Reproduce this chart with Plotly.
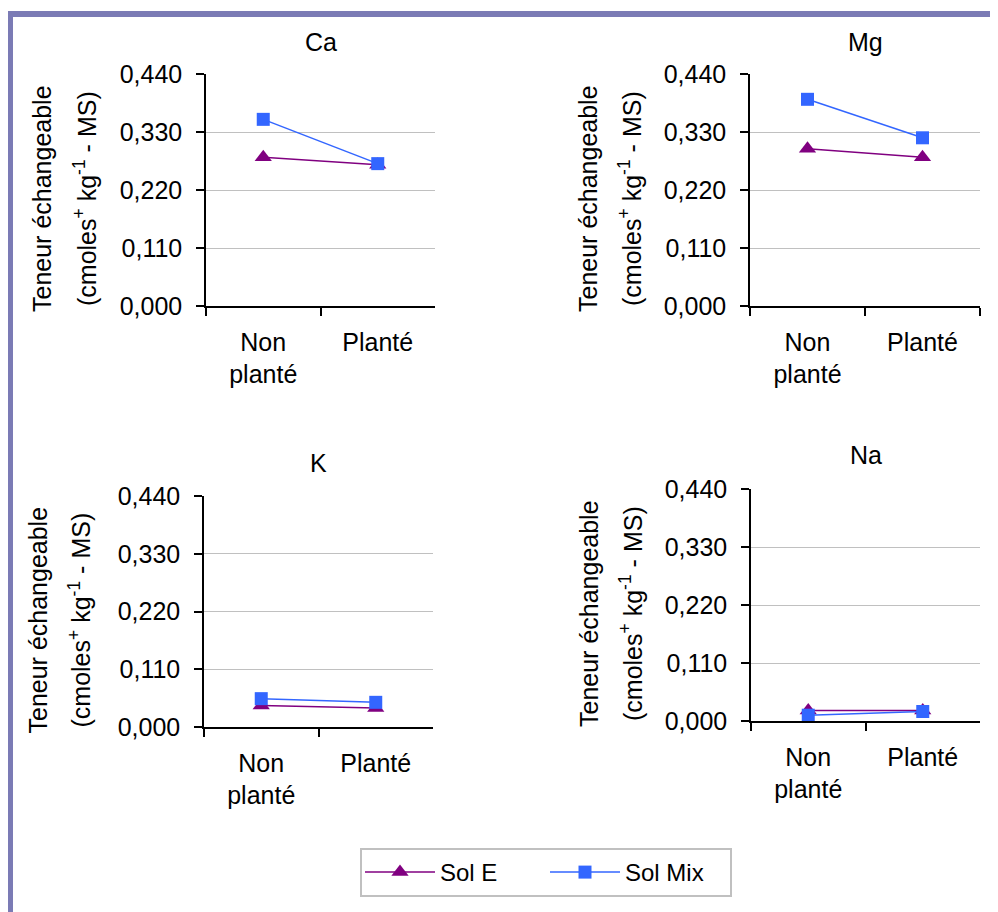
import plotly.graph_objects as go

# ---------------- data ----------------
categories = ["Non<br>planté", "Planté"]
elements = ["Ca", "Mg", "K", "Na"]
sol_e = {
    "Ca": [0.282, 0.268],
    "Mg": [0.298, 0.282],
    "K": [0.041, 0.036],
    "Na": [0.020, 0.020],
}
sol_mix = {
    "Ca": [0.354, 0.270],
    "Mg": [0.392, 0.319],
    "K": [0.054, 0.047],
    "Na": [0.011, 0.018],
}
y_ticks = [0.0, 0.11, 0.22, 0.33, 0.44]
y_ticktext = ["0,000", "0,110", "0,220", "0,330", "0,440"]
series_names = ["Sol E", "Sol Mix"]
ytitle_line1 = "Teneur échangeable"
ytitle_line2 = "(cmoles<sup>+</sup> kg<sup>-1</sup> - MS)"

# ---------------- layout geometry (pixels) ----------------
W, H = 998, 912
OFF = 8  # page body margin
FONT = "Liberation Sans, Arial, sans-serif"
FS = 25

def px_x(p):
    return (p - OFF) / W

def px_y(p):
    return 1 - (p - OFF) / H

# panel: (x0, x1, ytop, ybottom)
panels = {
    "Ca": (206, 435, 74, 306),
    "Mg": (750, 980, 74, 306),
    "K": (204, 433, 496, 727),
    "Na": (751, 980, 489, 721),
}
title_pos = {"Ca": 42, "Mg": 42, "K": 463, "Na": 455}
ytitle_x = {"Ca": (42, 85), "Mg": (588, 630), "K": (37, 79), "Na": (589, 631)}

COL_E = "#800080"
COL_MIX = "#3366FF"

fig = go.Figure()
annotations = []
for i, el in enumerate(elements):
    ax = "" if i == 0 else str(i + 1)
    x0, x1, yt, yb = panels[el]
    fig.add_trace(go.Scatter(
        x=categories, y=sol_e[el], name=series_names[0],
        mode="lines+markers", xaxis="x" + ax, yaxis="y" + ax,
        line=dict(color=COL_E, width=1.5),
        marker=dict(symbol="triangle-up", size=15, color=COL_E),
        showlegend=(i == 0), legendgroup="e",
    ))
    fig.add_trace(go.Scatter(
        x=categories, y=sol_mix[el], name=series_names[1],
        mode="lines+markers", xaxis="x" + ax, yaxis="y" + ax,
        line=dict(color=COL_MIX, width=1.5),
        marker=dict(symbol="square", size=13, color=COL_MIX),
        showlegend=(i == 0), legendgroup="mix",
    ))
    fig.update_layout(**{
        "xaxis" + ax: dict(
            domain=[px_x(x0), px_x(x1)], anchor="y" + ax,
            type="category", range=[-0.5, 1.5], automargin=False,
            showline=True, linecolor="black", linewidth=1.5,
            ticks="outside", ticklen=8, tickwidth=1.5, tickcolor="black",
            tickson="boundaries", showgrid=False,
            tickfont=dict(family=FONT, size=FS, color="black"),
            ticklabelstandoff=13,
        ),
        "yaxis" + ax: dict(
            domain=[px_y(yb), px_y(yt)], anchor="x" + ax,
            range=[0, 0.44], tickvals=y_ticks, ticktext=y_ticktext,
            automargin=False,
            showline=True, linecolor="black", linewidth=1.5,
            ticks="outside", ticklen=8, tickwidth=1.5, tickcolor="black",
            showgrid=True, gridcolor="#C0C0C0", gridwidth=1,
            zeroline=False,
            tickfont=dict(family=FONT, size=FS, color="black"),
            ticklabelstandoff=9,
        ),
    })
    annotations.append(dict(
        text=el, x=px_x((x0 + x1) / 2), y=px_y(title_pos[el]),
        xref="paper", yref="paper", showarrow=False,
        xanchor="center", yanchor="middle",
        font=dict(family=FONT, size=FS, color="black"),
    ))
    cy = (yt + yb) / 2 + 9
    for txt, xc in zip([ytitle_line1, ytitle_line2], ytitle_x[el]):
        annotations.append(dict(
            text=txt, x=px_x(xc), y=px_y(cy), textangle=-90,
            xref="paper", yref="paper", showarrow=False,
            xanchor="center", yanchor="middle",
            font=dict(family=FONT, size=FS, color="black"),
        ))

fig.update_layout(
    width=W, height=H,
    margin=dict(l=0, r=0, t=0, b=0, autoexpand=False),
    paper_bgcolor="white", plot_bgcolor="white",
    annotations=annotations,
    showlegend=True,
    legend=dict(
        orientation="h", x=px_x(360), xanchor="left",
        y=px_y(848), yanchor="top",
        bordercolor="#C0C0C0", borderwidth=2,
        font=dict(family=FONT, size=24, color="black"),
        itemwidth=70, entrywidth=100, entrywidthmode="pixels",
        bgcolor="white",
    ),
    shapes=[dict(
        type="rect", xref="paper", yref="paper",
        x0=px_x(10), x1=px_x(1100), y0=px_y(1000), y1=px_y(14),
        line=dict(color="#7B7BB5", width=6),
    )],
)

fig.write_html("out.html")
